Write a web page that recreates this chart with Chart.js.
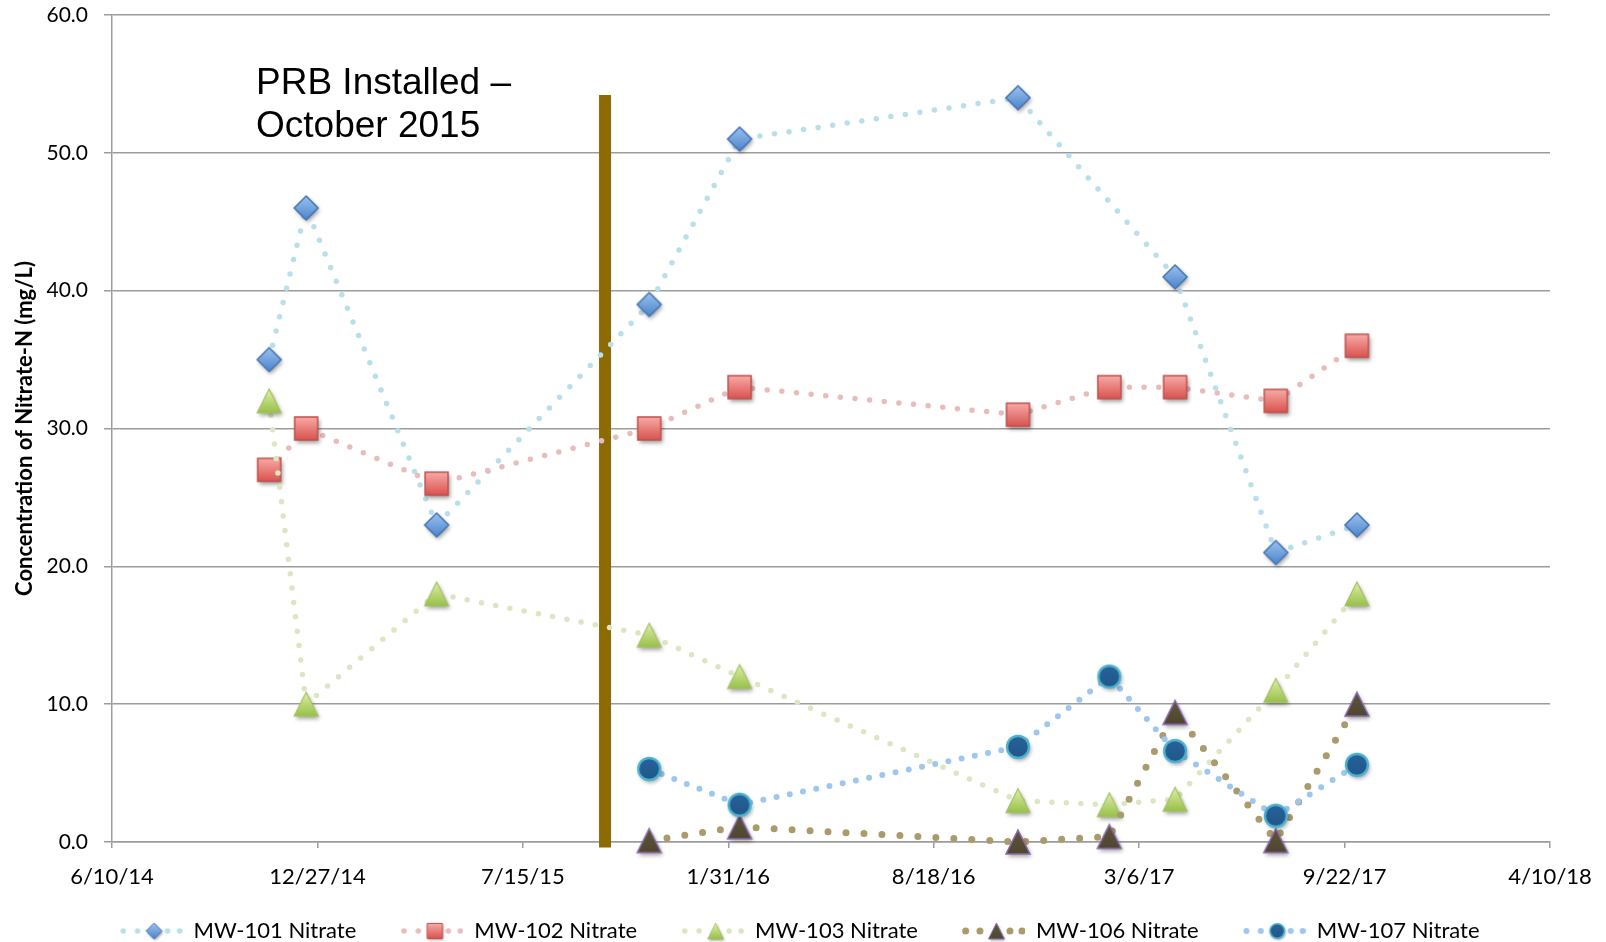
<!DOCTYPE html>
<html>
<head>
<meta charset="utf-8">
<title>Nitrate-N concentrations</title>
<script src="https://cdn.jsdelivr.net/npm/chart.js@4.4.1/dist/chart.umd.min.js"></script>
<style>
  html, body { margin: 0; padding: 0; background: #ffffff; }
  #wrap { width: 1606px; height: 942px; position: relative; }
</style>
</head>
<body>
<div id="wrap"><canvas id="chart"></canvas></div>
<script>
// ---- sampling dates and measured values (mg/L) ----
const allSampleDates = ['2014-11-10', '2014-12-16', '2015-04-22', '2015-11-15', '2016-02-11',
                        '2016-11-08', '2017-02-05', '2017-04-10', '2017-07-17', '2017-10-04'];
const mw101Dates = ['2014-11-10', '2014-12-16', '2015-04-22', '2015-11-15', '2016-02-11',
                    '2016-11-08', '2017-04-10', '2017-07-17', '2017-10-04'];
const postPrbDates = ['2015-11-15', '2016-02-11', '2016-11-08', '2017-02-05', '2017-04-10',
                      '2017-07-17', '2017-10-04'];

const mw101Values = [35, 46, 23, 39, 51, 54, 41, 21, 23];
const mw102Values = [27, 30, 26, 30, 33, 31, 33, 33, 32, 36];
const mw103Values = [32, 10, 18, 15, 12, 3, 2.7, 3.1, 11, 18];
const mw106Values = [0.1, 1.1, 0, 0.4, 9.4, 0.1, 10];
const mw107Values = [5.3, 2.7, 6.9, 12, 6.6, 1.9, 5.6];

const seriesNames = ['MW-101 Nitrate', 'MW-102 Nitrate', 'MW-103 Nitrate', 'MW-106 Nitrate', 'MW-107 Nitrate'];

// PRB installation marker
const prbDate = '2015-10-03';
const prbRange = [-0.4, 54.2];
const prbLabelLines = ['PRB Installed \u2013', 'October 2015'];

// axis ranges
const xAxisStart = '2014-06-10';
const xAxisEnd = '2018-04-10';
const xTickStepDays = 200;
const yMin = 0, yMax = 60, yStep = 10;
const yTitle = 'Concentration of Nitrate-N (mg/L)';

// ---- helpers ----
const DAY_MS = 86400000;
function toDay(s) {
  const [y, m, d] = s.split('-').map(Number);
  return Date.UTC(y, m - 1, d) / DAY_MS;
}
function dayLabel(v) {
  const dt = new Date(v * DAY_MS);
  return (dt.getUTCMonth() + 1) + '/' + dt.getUTCDate() + '/' + String(dt.getUTCFullYear()).slice(2);
}
function pairs(dates, values) {
  return dates.map((d, i) => ({ x: toDay(d), y: values[i] }));
}

// marker shapes
function shapePath(g, shape, cx, cy, r) {
  g.beginPath();
  if (shape === 'diamond') {
    g.moveTo(cx, cy - r); g.lineTo(cx + r, cy); g.lineTo(cx, cy + r); g.lineTo(cx - r, cy);
  } else if (shape === 'square') {
    g.rect(cx - r, cy - r, 2 * r, 2 * r);
  } else if (shape === 'triangle') {
    g.moveTo(cx, cy - r); g.lineTo(cx + r, cy + r); g.lineTo(cx - r, cy + r);
  } else if (shape === 'circle') {
    g.arc(cx, cy, r, 0, Math.PI * 2);
  }
  g.closePath();
}

function paintMarker(g, s, cx, cy, scale) {
  const r = s.r * scale;
  const grad = g.createLinearGradient(0, cy - r, 0, cy + r);
  grad.addColorStop(0, s.fillTop);
  grad.addColorStop(1, s.fillBottom);
  g.save();
  g.shadowColor = 'rgba(0,0,0,0.38)';
  g.shadowBlur = 4 * scale;
  g.shadowOffsetX = 1.5 * scale;
  g.shadowOffsetY = 2.5 * scale;
  shapePath(g, s.shape, cx, cy, r);
  g.fillStyle = grad;
  g.fill();
  g.restore();
  shapePath(g, s.shape, cx, cy, r);
  g.lineWidth = s.strokeWidth * scale;
  g.strokeStyle = s.stroke;
  g.lineJoin = 'miter';
  g.stroke();
}

function markerImage(s) {
  const size = Math.ceil(2 * s.r + 18);
  const c = document.createElement('canvas');
  c.width = size; c.height = size;
  paintMarker(c.getContext('2d'), s, size / 2, size / 2, 1);
  return c;
}

// legend swatch: dotted line segments either side of a small marker
const LEGEND_SWATCH_W = 70;
function legendImage(s) {
  const w = LEGEND_SWATCH_W, h = 26;
  const c = document.createElement('canvas');
  c.width = w; c.height = h;
  const g = c.getContext('2d');
  g.fillStyle = s.line;
  [10.7, 25, 55, 67].forEach(x => {
    g.beginPath(); g.arc(x, h / 2, s.dotSize / 2, 0, Math.PI * 2); g.fill();
  });
  paintMarker(g, s, 41.5, h / 2, 0.66);
  return c;
}

// ---- series styling ----
const styles = [
  { shape: 'diamond',  r: 12,   fillTop: '#9cc2ee', fillBottom: '#4a84cc', stroke: '#4375b6', strokeWidth: 1.5,
    line: '#b9dfea', dotSize: 5.5, gap: 14.7 },
  { shape: 'square',   r: 11.5, fillTop: '#f8aaa6', fillBottom: '#d9534f', stroke: '#c0504d', strokeWidth: 1.5,
    line: '#e8bcbb', dotSize: 5.5, gap: 14.7 },
  { shape: 'triangle', r: 12,   fillTop: '#dff0a8', fillBottom: '#97c048', stroke: '#a3c266', strokeWidth: 1.2,
    line: '#dbe6c3', dotSize: 5.5, gap: 14.5 },
  { shape: 'triangle', r: 12,   fillTop: '#5e5539', fillBottom: '#4f4630', stroke: '#8a6bb0', strokeWidth: 1.5,
    line: '#a99b6b', dotSize: 7, gap: 18 },
  { shape: 'circle',   r: 11,   fillTop: '#27629a', fillBottom: '#21578a', stroke: '#4bb3cf', strokeWidth: 2.4,
    line: '#9fc6ee', dotSize: 6, gap: 13.5 }
];

const seriesData = [
  pairs(mw101Dates, mw101Values),
  pairs(allSampleDates, mw102Values),
  pairs(allSampleDates, mw103Values),
  pairs(postPrbDates, mw106Values),
  pairs(postPrbDates, mw107Values)
];

const markerImgs = styles.map(markerImage);
const legendImgs = styles.map(legendImage);

const datasets = seriesData.map((data, i) => ({
  label: seriesNames[i],
  data: data,
  order: 5 - i,
  borderColor: styles[i].line,
  backgroundColor: styles[i].line,
  borderWidth: styles[i].dotSize,
  borderDash: [0, styles[i].gap],
  borderCapStyle: 'round',
  tension: 0,
  fill: false,
  clip: false,
  pointStyle: markerImgs[i],
  pointRadius: 4,
  pointBorderWidth: 0,
  pointHoverRadius: 4
}));

datasets.push({
  label: 'PRB',
  data: [{ x: toDay(prbDate), y: prbRange[0] }, { x: toDay(prbDate), y: prbRange[1] }],
  order: 20,
  borderColor: '#8d6b02',
  borderWidth: 12,
  borderCapStyle: 'butt',
  tension: 0,
  pointRadius: 0,
  fill: false,
  clip: false
});

// keep the date labels under the axis from being clipped by the legend band
const xLabelRoom = {
  id: 'xLabelRoom',
  afterLayout(chart) {
    const xs = chart.scales.x;
    xs.bottom = xs.top + 60;
  }
};

// label next to the PRB line
const prbLabelPlugin = {
  id: 'prbLabel',
  afterDatasetsDraw(chart) {
    const { ctx, chartArea } = chart;
    ctx.save();
    ctx.font = '37px "Liberation Sans", Arial, sans-serif';
    ctx.fillStyle = '#000000';
    ctx.textBaseline = 'alphabetic';
    ctx.textAlign = 'left';
    ctx.fillText(prbLabelLines[0], chartArea.left + 144, 94);
    ctx.fillText(prbLabelLines[1], chartArea.left + 144, 137);
    ctx.restore();
  }
};

const gridGray = '#9c9c9c';

new Chart(document.getElementById('chart'), {
  type: 'line',
  data: { datasets: datasets },
  plugins: [xLabelRoom, prbLabelPlugin],
  options: {
    responsive: true,
    maintainAspectRatio: false,
    animation: false,
    events: [],
    layout: { padding: { top: 15, bottom: -10, left: 0, right: 14 } },
    plugins: {
      tooltip: { enabled: false },
      legend: {
        position: 'bottom',
        labels: {
          usePointStyle: true,
          pointStyleWidth: LEGEND_SWATCH_W,
          padding: 37,
          color: '#000000',
          font: { family: 'Lato, "Liberation Sans", sans-serif', size: 22 },
          filter: item => item.datasetIndex < seriesNames.length,
          sort: (a, b) => a.datasetIndex - b.datasetIndex,
          generateLabels(chart) {
            const items = Chart.defaults.plugins.legend.labels.generateLabels(chart);
            items.forEach(it => {
              if (it.datasetIndex < legendImgs.length) it.pointStyle = legendImgs[it.datasetIndex];
            });
            return items;
          }
        }
      }
    },
    scales: {
      x: {
        type: 'linear',
        min: toDay(xAxisStart),
        max: toDay(xAxisEnd),
        afterFit(scale) {
          scale.height = 41;
          scale.paddingRight = 56;
          scale.paddingLeft = 0;
        },
        ticks: {
          stepSize: xTickStepDays,
          autoSkip: false,
          maxRotation: 0,
          padding: 16,
          color: '#000000',
          font: { family: 'Lato, "Liberation Sans", sans-serif', size: 22 },
          callback: v => dayLabel(v)
        },
        grid: {
          display: true,
          drawOnChartArea: false,
          drawTicks: true,
          tickLength: 6,
          color: gridGray,
          lineWidth: 1.5
        },
        border: { display: true, color: gridGray, width: 1.5 }
      },
      y: {
        type: 'linear',
        min: yMin,
        max: yMax,
        afterFit(scale) {
          scale.width = 112;
          scale.paddingTop = 0;
          scale.paddingBottom = 0;
        },
        ticks: {
          stepSize: yStep,
          padding: 16,
          color: '#000000',
          font: { family: 'Lato, "Liberation Sans", sans-serif', size: 21, lineHeight: 1 },
          callback: v => v.toFixed(1)
        },
        grid: {
          color: gridGray,
          lineWidth: 1.5,
          tickLength: 8
        },
        border: { display: true, color: gridGray, width: 1.5 },
        title: {
          display: true,
          text: yTitle,
          color: '#000000',
          padding: { top: 12, bottom: 0 },
          font: { family: 'Lato, "Liberation Sans", sans-serif', size: 22, weight: 'bold' }
        }
      }
    }
  }
});
</script>
</body>
</html>
